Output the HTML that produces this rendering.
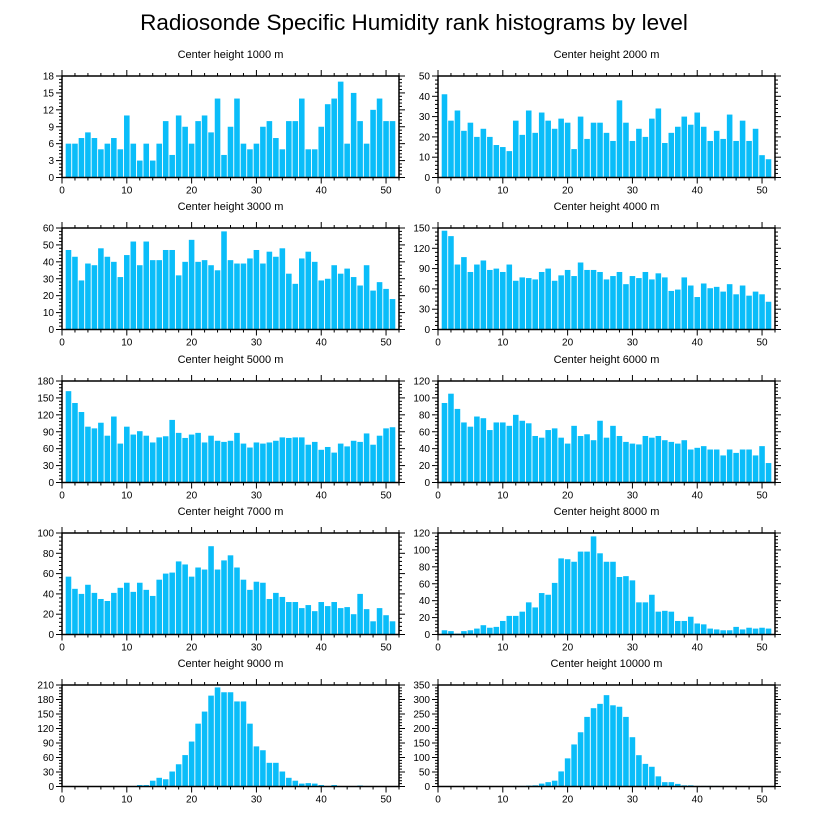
<!DOCTYPE html>
<html><head><meta charset="utf-8"><style>
body{margin:0;background:#fff;width:816px;height:824px;overflow:hidden}
svg{display:block;font-family:"Liberation Sans",sans-serif}
</style></head><body>
<svg id="chart" width="816" height="824" viewBox="0 0 816 824">
<text x="414" y="30" text-anchor="middle" font-size="22.5" fill="#000">Radiosonde Specific Humidity rank histograms by level</text>
</svg>
<script>
const levels=["1000","2000","3000","4000","5000","6000","7000","8000","9000","10000"];
const yMax=[18,50,60,150,180,120,100,120,210,350];
const yStep=[3,10,10,30,30,20,20,20,30,50];
const xTicks=[0,10,20,30,40,50];
const h1000=[6,6,7,8,7,5,6,7,5,11,6,3,6,3,6,10,4,11,9,6,10,11,8,14,4,9,14,6,5,6,9,10,7,5,10,10,14,5,5,9,13,14,17,6,15,10,6,12,14,10,10];
const h2000=[41,28,33,23,27,20,24,20,16,15,13,28,21,33,22,32,28,24,29,27,14,30,19,27,27,22,18,38,27,18,24,20,29,34,17,22,25,30,26,32,25,18,23,19,31,18,28,18,24,11,9];
const h3000=[47,43,29,39,38,48,43,40,31,44,52,38,52,41,41,47,47,32,40,53,40,41,38,35,58,41,39,39,42,47,39,46,43,48,33,27,42,46,40,29,30,38,33,36,31,26,38,23,28,24,18];
const h4000=[146,138,96,107,85,96,102,88,90,85,96,72,77,76,74,85,90,72,80,88,79,99,88,88,85,74,79,85,67,79,76,85,74,83,77,57,59,77,65,48,68,61,63,56,67,52,65,50,56,52,41];
const h5000=[162,141,125,99,96,106,83,117,69,99,85,91,83,71,80,82,111,88,79,85,88,71,83,74,72,74,88,69,62,71,69,71,74,80,79,80,80,67,72,58,63,53,69,64,74,72,87,67,83,96,98];
const h6000=[94,105,87,71,66,78,76,62,71,71,67,80,73,70,55,53,62,64,53,46,67,55,57,50,73,53,67,55,48,46,45,55,53,55,50,48,46,50,39,41,43,39,39,32,39,35,39,39,32,43,23];
const h7000=[57,45,40,49,41,35,33,41,46,51,42,51,44,38,54,60,61,72,69,57,66,64,87,64,73,78,66,54,44,52,51,35,41,37,32,32,26,29,23,32,28,32,26,27,20,40,25,13,26,19,13];
const h8000=[5,4,1,4,5,7,11,8,9,16,22,22,27,38,32,49,47,61,90,89,86,98,98,116,96,86,86,68,69,64,38,38,47,27,28,27,16,16,21,13,12,7,6,5,5,9,6,8,7,8,7];
const h9000=[0,0,0,0,0,0,0,0,1,1,1,3,3,12,18,15,31,46,65,93,130,155,188,205,195,195,176,176,130,83,75,49,49,31,18,12,6,7,6,3,1,3,1,1,1,2,1,1,1,1,1];
const h10000=[0,0,0,0,0,0,0,0,0,0,0,2,2,3,4,10,15,20,52,97,145,187,240,270,285,315,280,275,240,170,108,78,68,35,15,15,9,4,4,2,2,2,2,1,1,1,1,1,1,1,1];
const series=[h1000,h2000,h3000,h4000,h5000,h6000,h7000,h8000,h9000,h10000];

const NS="http://www.w3.org/2000/svg";
const svg=document.getElementById('chart');
function mk(tag,attrs,parent){const e=document.createElementNS(NS,tag);for(const k in attrs)e.setAttribute(k,attrs[k]);(parent||svg).appendChild(e);return e;}
const colX=[62,438], plotW=337, rowY=[76,228,381,533,685], plotH=101.5, xMaxV=52;

series.forEach((vals,p)=>{
  const col=p%2,row=Math.floor(p/2);
  const L=colX[col],T=rowY[row],B=T+plotH,R=L+plotW;
  const xs=v=>L+v/xMaxV*plotW;
  const ys=v=>B-v/yMax[p]*plotH;
  const g=mk('g',{});
  
  
  const t=mk('text',{x:(L+R)/2,y:T-18,'text-anchor':'middle','font-size':'11',fill:'#000'},g);
  t.textContent='Center height '+levels[p]+' m';
  
  
  const bw=0.86*plotW/xMaxV;
  vals.forEach((v,i)=>{
    const x=xs(i+1);
    const r=mk('rect',{x:x-bw/2,y:ys(v),width:bw,height:B-ys(v),fill:'#0abdf9'},g);
    
    
  });
  const fr=mk('rect',{x:L,y:T,width:plotW,height:plotH,fill:'none',stroke:'#000','stroke-width':'1.5'},g);
  
  
  for(let v=0;v<=xMaxV;v+=2){
    const x=xs(v),maj=v%10===0,len=maj?6:3;
    mk('line',{x1:x,y1:B,x2:x,y2:B+len,stroke:'#000','stroke-width':'1'},g);
    mk('line',{x1:x,y1:T,x2:x,y2:T-len,stroke:'#000','stroke-width':'1'},g);
  }
  xTicks.forEach(v=>{
    const tl=mk('text',{x:xs(v),y:B+16,'text-anchor':'middle','font-size':'10',fill:'#000'},g);
    tl.textContent=v;
    
    
  });
  const minor=yStep[p]/5;
  for(let k=0;k<=Math.round(yMax[p]/minor);k++){
    const v=k*minor,y=ys(v),maj=(k%5===0),len=maj?6:3;
    mk('line',{x1:L,y1:y,x2:L-len,y2:y,stroke:'#000','stroke-width':'1'},g);
    mk('line',{x1:R,y1:y,x2:R+len,y2:y,stroke:'#000','stroke-width':'1'},g);
  }
  for(let v=0;v<=yMax[p];v+=yStep[p]){
    const tl=mk('text',{x:L-8,y:ys(v)+3.5,'text-anchor':'end','font-size':'10',fill:'#000'},g);
    tl.textContent=v;
    
    
  }
});
</script>
</body></html>
